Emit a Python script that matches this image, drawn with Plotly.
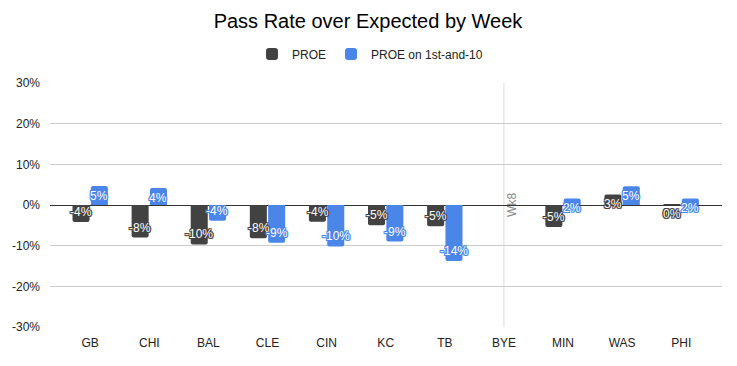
import plotly.graph_objects as go

weeks = ["GB", "CHI", "BAL", "CLE", "CIN", "KC", "TB", "BYE", "MIN", "WAS", "PHI"]
proe = [-4.2, -8.0, -9.7, -8.2, -4.1, -5.0, -5.2, None, -5.4, 2.6, 0.2]
proe_1st10 = [4.7, 4.2, -3.9, -9.3, -10.2, -9.0, -13.8, None, 1.6, 4.6, 1.6]
series_names = ["PROE", "PROE on 1st-and-10"]
colors = ["#424242", "#4a86e8"]
y_ticks = [-30, -20, -10, 0, 10, 20, 30]
y_tick_labels = ["-30%", "-20%", "-10%", "0%", "10%", "20%", "30%"]
bye_label = "Wk8"
bye_week = "BYE"

FONT = "Arial, Liberation Sans, sans-serif"
W, H = 729, 358  # page body has an 8px margin

fig = go.Figure()
for name, vals, col in zip(series_names, [proe, proe_1st10], colors):
    fig.add_trace(go.Bar(x=weeks, y=vals, name=name, marker=dict(color=col, line=dict(width=0),
                                                                  cornerradius=2)))

annotations = []
for idx, (vals, col) in enumerate(zip([proe, proe_1st10], colors)):
    xs = -9 if idx == 0 else 9
    shadow = ", ".join(f"{dx}px {dy}px 0 {col}" for dx in (-1, 0, 1) for dy in (-1, 0, 1))
    for w, v in zip(weeks, vals):
        if v is None:
            continue
        txt = f"{int(round(v))}%"
        annotations.append(dict(
            x=w, y=v, xref="x", yref="y", text=txt, showarrow=False,
            xshift=xs, yshift=(-10 if v >= 0 else 10), yanchor="middle", xanchor="center",
            font=dict(family=FONT, size=12, color="white", shadow=shadow)))

annotations.append(dict(
    x=bye_week, y=0, xref="x", yref="y", text=bye_label, showarrow=False, textangle=-90,
    xshift=8, yshift=0, font=dict(family=FONT, size=12, color="#8a8a8a")))

fig.add_shape(type="line", xref="x", yref="paper", x0=bye_week, x1=bye_week, y0=0, y1=1,
              line=dict(color="#dddddd", width=1), layer="below")

fig.update_layout(
    width=W, height=H,
    margin=dict(l=42, r=15, t=75, b=39, autoexpand=False),
    paper_bgcolor="white", plot_bgcolor="white",
    title=dict(text="Pass Rate over Expected by Week", x=(368 - 8) / W, xanchor="center", xref="container",
               y=1 - 13 / H, yref="container", yanchor="middle",
               font=dict(family=FONT, size=20, color="#000000")),
    legend=dict(orientation="h", x=(370 - 8) / W, xanchor="center", xref="container",
                y=(327 - 54) / 244, yref="paper",
                yanchor="middle", font=dict(family=FONT, size=12, color="#222222"),
                itemwidth=30, traceorder="normal"),
    barmode="group", bargap=0.38, bargroupgap=0.07,
    font=dict(family=FONT, size=12, color="#444444"),
    annotations=annotations,
    showlegend=True,
)
fig.update_xaxes(range=[-0.68, 10.69], showgrid=False, showline=False, ticks="",
                 ticklabelstandoff=7,
                 tickfont=dict(family=FONT, size=12, color="#222222"))
fig.update_yaxes(range=[-30, 30], tickvals=y_ticks, ticktext=y_tick_labels, showgrid=True,
                 gridcolor="#cccccc", zeroline=True, zerolinecolor="#333333", zerolinewidth=1,
                 ticklabelstandoff=9,
                 tickfont=dict(family=FONT, size=12, color="#222222"), ticks="", ticklen=0)

fig.write_html("out.html")
